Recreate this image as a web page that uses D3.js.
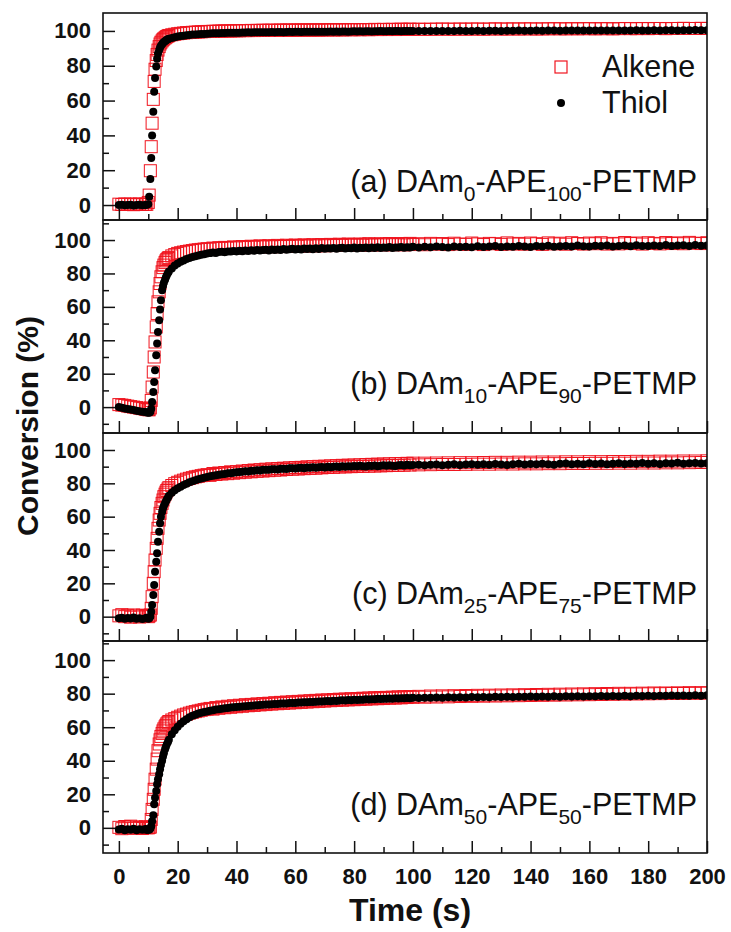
<!DOCTYPE html>
<html>
<head>
<meta charset="utf-8">
<script src="https://cdn.jsdelivr.net/npm/d3@7"></script>
<style>
  body { margin: 0; background: #fff; }
  svg { display: block; }
</style>
</head>
<body>
<svg id="chart" width="731" height="932"></svg>
<script>
// Sampling times (s), shared by every series
const time = [
  0, 1, 2, 3, 4, 5, 6, 7, 8, 9, 9.5,
  10, 10.3, 10.7, 11, 11.3, 11.7, 12, 12.3, 12.7, 13, 13.3, 13.7, 14, 14.3, 14.7, 15, 15.3, 15.7, 16, 16.3, 16.7, 17,
  18, 19, 20, 21, 22, 23, 24, 25, 26, 27, 28, 29, 30,
  31, 32, 33, 34, 35, 36, 37, 38, 39, 40,
  41, 42, 43, 44, 45, 46, 47, 48, 49, 50,
  51, 52, 53, 54, 55, 56, 57, 58, 59, 60,
  61, 62, 63, 64, 65, 66, 67, 68, 69, 70,
  71, 72, 73, 74, 75, 76, 77, 78, 79, 80,
  81, 82, 83, 84, 85, 86, 87, 88, 89, 90,
  91, 92, 93, 94, 95, 96, 97, 98, 99, 100,
  102, 104, 106, 108, 110, 112, 114, 116, 118, 120,
  122, 124, 126, 128, 130, 132, 134, 136, 138, 140,
  142, 144, 146, 148, 150, 152, 154, 156, 158, 160,
  162, 164, 166, 168, 170, 172, 174, 176, 178, 180,
  182, 184, 186, 188, 190, 192, 194, 196, 198, 200
];

// (a) DAm0-APE100-PETMP conversion (%)
const alkeneA = [
  0.5, 0.3, 0.6, 0.4, 0.5, 0.2, 0.5, 0.6, 0.3, 0.5, 0.4,
  1.5, 5.7, 19.7, 33.5, 47, 60.7, 71, 78, 83, 86.5, 89, 91, 92.5, 93.5, 94.3, 95, 95.5, 96, 96.4, 96.8, 97.1, 97.4,
  97.8, 98.1, 98.4, 98.6, 98.8, 99, 99.1, 99.2, 99.3, 99.4, 99.5, 99.6, 99.7,
  99.7, 99.8, 99.8, 99.9, 99.9, 100, 100, 100, 100.1, 100.1,
  100.1, 100.2, 100.2, 100.2, 100.3, 100.2, 100.3, 100.3, 100.4, 100.3,
  100.4, 100.4, 100.3, 100.4, 100.5, 100.4, 100.5, 100.5, 100.4, 100.5,
  100.5, 100.6, 100.5, 100.6, 100.5, 100.6, 100.6, 100.5, 100.6, 100.7,
  100.6, 100.7, 100.6, 100.7, 100.7, 100.6, 100.7, 100.8, 100.7, 100.7,
  100.8, 100.7, 100.8, 100.8, 100.7, 100.8, 100.9, 100.8, 100.8, 100.9,
  100.8, 100.9, 100.9, 100.8, 100.9, 101, 100.9, 100.9, 101, 100.9,
  101, 100.9, 101, 101, 101.1, 101, 101, 101.1, 101, 101.1,
  101.1, 101, 101.1, 101.2, 101.1, 101.1, 101.2, 101.1, 101.2, 101.2,
  101.1, 101.2, 101.2, 101.3, 101.2, 101.2, 101.3, 101.2, 101.3, 101.3,
  101.2, 101.3, 101.3, 101.2, 101.3, 101.4, 101.3, 101.3, 101.4, 101.3,
  101.4, 101.4, 101.3, 101.4, 101.4, 101.5, 101.4, 101.4, 101.5, 101.4
];
const thiolA = [
  0, 0.2, -0.1, 0, 0.1, -0.2, 0, 0.1, -0.1, 0, 0.2,
  0.5, 4.8, 15, 27, 40, 53.6, 65, 73, 79.5, 84, 87, 89, 90.5, 91.5, 92.4, 93, 93.6, 94.1, 94.5, 94.9, 95.2, 95.5,
  96, 96.4, 96.8, 97.1, 97.3, 97.5, 97.7, 97.9, 98, 98.1, 98.2, 98.3, 98.4,
  98.5, 98.6, 98.6, 98.7, 98.8, 98.8, 98.9, 98.9, 99, 99,
  99, 99.1, 99.1, 99.2, 99.1, 99.2, 99.2, 99.3, 99.2, 99.3,
  99.3, 99.4, 99.3, 99.4, 99.4, 99.3, 99.4, 99.5, 99.4, 99.5,
  99.5, 99.4, 99.5, 99.5, 99.6, 99.5, 99.6, 99.5, 99.6, 99.6,
  99.6, 99.7, 99.6, 99.7, 99.6, 99.7, 99.7, 99.6, 99.7, 99.8,
  99.7, 99.8, 99.7, 99.8, 99.8, 99.7, 99.8, 99.8, 99.9, 99.8,
  99.8, 99.9, 99.8, 99.9, 99.9, 99.8, 99.9, 99.9, 100, 99.9,
  99.9, 100, 99.9, 100, 100, 99.9, 100, 100.1, 100, 100,
  100.1, 100, 100.1, 100.1, 100, 100.1, 100.1, 100.2, 100.1, 100.1,
  100.2, 100.1, 100.2, 100.2, 100.1, 100.2, 100.2, 100.3, 100.2, 100.2,
  100.3, 100.2, 100.3, 100.3, 100.2, 100.3, 100.3, 100.4, 100.3, 100.3,
  100.4, 100.3, 100.4, 100.4, 100.3, 100.4, 100.4, 100.5, 100.4, 100.4
];

// (b) DAm10-APE90-PETMP
const alkeneB = [
  1.5, 1.2, 1, 0.6, 0.3, 0, -0.3, -0.6, -0.9, -1.2, -1.4,
  -1.5, -1.6, -0.5, 4, 12, 21, 30, 39, 48, 56, 63, 69, 74, 78, 81, 83.5, 85, 86.5, 87.5, 88.3, 89, 89.5,
  90.5, 91.3, 92, 92.4, 92.8, 93.1, 93.4, 93.7, 94, 94.2, 94.4, 94.6, 94.8,
  94.6, 95.2, 94.9, 95.4, 95.1, 95.6, 95.2, 95.5, 95.9, 95.3,
  95.8, 96.1, 95.5, 96, 96.3, 95.7, 96.2, 96.5, 95.9, 96.3,
  96.6, 96, 96.4, 96.8, 96.1, 96.5, 96.9, 96.2, 96.7, 97,
  96.3, 96.8, 97.1, 96.4, 96.9, 97.2, 96.5, 97, 97.3, 96.6,
  97.1, 97.4, 96.7, 97.2, 97.5, 96.8, 97.3, 97.6, 96.9, 97.4,
  97.2, 97.6, 96.9, 97.5, 97.8, 97, 97.5, 97.3, 97.8, 97.1,
  97.6, 97.9, 97.2, 97.6, 97.4, 97.9, 97.1, 97.7, 98, 97.3,
  97.8, 97.2, 98, 97.5, 97.9, 97.3, 98.1, 97.6, 97.4, 98.2,
  97.7, 97.3, 98, 97.8, 97.4, 98.3, 97.6, 98, 97.5, 98.2,
  97.8, 97.4, 98.3, 97.7, 98.1, 97.5, 98.4, 97.9, 97.6, 98.2,
  97.8, 98.4, 97.6, 98, 97.7, 98.5, 97.9, 98.2, 97.6, 98.4,
  98, 97.7, 98.5, 97.9, 98.3, 97.8, 98.6, 98.1, 97.9, 98.4
];
const thiolB = [
  0, -0.4, -0.8, -1.2, -1.5, -1.8, -2.2, -2.5, -2.8, -3, -3.2,
  -3.3, -3.4, -3, -1, 3, 9, 15, 22, 31, 38, 45, 52, 58.5, 64, 70, 72.5, 74.5, 76.3, 77.8, 79, 80.2, 81.2,
  83, 84.8, 86, 87, 87.8, 88.6, 89.2, 89.8, 90.3, 90.8, 91.2, 91.5, 92,
  92.2, 92.5, 92.3, 92.8, 93, 92.7, 93.2, 93.1, 93.4, 93.2,
  93.6, 93.3, 93.8, 93.5, 93.9, 93.6, 94.1, 93.7, 94, 94.2,
  93.8, 94.3, 94, 94.4, 94.1, 94.6, 94.2, 94.5, 94.8, 94.3,
  94.7, 94.4, 95, 94.6, 94.9, 94.5, 95.1, 94.7, 95.2, 94.8,
  95.1, 94.9, 95.3, 94.8, 95.2, 95.4, 94.9, 95.3, 95.1, 95.5,
  95, 95.4, 95.2, 95.6, 95.1, 95.5, 95.3, 95.7, 95.2, 95.6,
  95.4, 95.8, 95.3, 95.6, 95.5, 95.9, 95.4, 95.7, 95.6, 96,
  95.6, 96, 95.7, 96.1, 95.8, 95.5, 96.2, 95.9, 96, 95.7,
  96.3, 95.8, 96.1, 96.4, 95.9, 96.2, 96, 96.5, 96.1, 95.9,
  96.4, 96.2, 96.6, 96, 96.3, 96.5, 96.1, 96.7, 96.3, 96.2,
  96.6, 96.4, 96.8, 96.2, 96.5, 96.7, 96.3, 96.9, 96.5, 96.4,
  96.8, 96.5, 97, 96.4, 96.7, 96.9, 96.5, 97, 96.6, 96.8
];

// (c) DAm25-APE75-PETMP
const alkeneC = [
  0.5, 1.2, 0, 0.8, -0.3, 1, 0.4, -0.2, 0.9, 0.3, 0.6,
  0, 0.5, 1, 5, 12, 20, 27, 34, 41, 47, 53, 58, 62, 65.5, 68, 70, 72, 73.5, 74.7, 75.7, 76.6, 77.4,
  78.7, 79.8, 80.6, 81.3, 81.9, 82.5, 83, 83.4, 83.9, 84.2, 84.6, 84.9, 85.2,
  84.8, 85.9, 85.3, 86.2, 85.6, 86.5, 85.8, 86.9, 86.1, 87,
  86.4, 87.4, 86.7, 87.7, 86.9, 88, 87.2, 88.2, 87.4, 88.5,
  87.6, 88.7, 87.9, 88.9, 88, 89.1, 88.3, 89.3, 88.5, 89.5,
  88.6, 89.6, 88.8, 89.9, 89, 90, 89.1, 90.2, 89.3, 90.3,
  89.5, 90.5, 89.6, 90.6, 89.8, 90.8, 89.9, 90.9, 90, 91,
  90.1, 91.1, 90.2, 91.3, 90.3, 91.4, 90.4, 91.5, 90.5, 91.6,
  90.6, 91.7, 90.7, 91.8, 90.8, 91.9, 90.9, 92, 91, 92.1,
  91.1, 92.1, 91.2, 92.2, 91.3, 92.3, 91.3, 92.4, 91.4, 92.4,
  91.5, 92.5, 91.5, 92.6, 91.6, 92.6, 91.6, 92.7, 91.7, 92.7,
  91.7, 92.8, 91.8, 92.8, 91.8, 92.9, 91.9, 92.9, 91.9, 93,
  92, 93, 92, 93.1, 92.1, 93.1, 92.1, 93.2, 92.2, 93.2,
  92.2, 93.3, 92.3, 93.3, 92.3, 93.4, 92.4, 93.4, 92.5, 93.5
];
const thiolC = [
  -1, -0.6, -1.3, -0.8, -1.1, -0.5, -1.2, -0.9, -1.4, -1, -0.7,
  -1.2, -1, 0, 3, 7, 13, 19, 27, 33, 38, 45, 51, 56, 60, 63, 65, 66.5, 68, 69.3, 70.3, 71.5, 72.5,
  74.3, 75.8, 77, 78, 79, 79.8, 80.6, 81.3, 81.8, 82.4, 82.9, 83.4, 83.8,
  84.2, 84.5, 84.9, 85.1, 85.5, 85.6, 86, 86.1, 86.4, 86.6,
  86.8, 87, 87.2, 87.1, 87.5, 87.6, 87.9, 87.7, 88.1, 88.2,
  88.1, 88.4, 88.5, 88.3, 88.7, 88.8, 88.6, 89, 89.1, 88.9,
  89.2, 89.3, 89.1, 89.5, 89.4, 89.6, 89.3, 89.7, 89.8, 89.5,
  89.9, 89.7, 90, 90.1, 89.8, 90.2, 90, 90.3, 90.1, 90.4,
  90.2, 90.5, 90.3, 90.1, 90.6, 90.4, 90.7, 90.3, 90.6, 90.8,
  90.5, 90.9, 90.6, 90.4, 90.9, 91, 90.7, 91.1, 90.8, 91,
  91.2, 90.8, 91.1, 91.3, 90.9, 91.2, 91.4, 91, 91.3, 91.5,
  91.1, 91.4, 91.2, 91.6, 91.3, 91, 91.5, 91.7, 91.3, 91.6,
  91.4, 91.8, 91.5, 91.2, 91.7, 91.9, 91.4, 91.7, 91.5, 92,
  91.6, 91.9, 91.4, 91.8, 92.1, 91.6, 91.9, 91.7, 92.2, 91.8,
  92, 91.6, 92.1, 91.9, 92.3, 91.8, 92, 92.2, 91.9, 92.1
];

// (d) DAm50-APE50-PETMP
const alkeneD = [
  0.3, -0.5, 0.8, 0, 1, -0.3, 0.6, 0.2, -0.4, 0.7, 0.1,
  0, 0.2, 0.5, 5, 11, 17, 23, 29, 35, 41, 46, 50, 52.5, 54.5, 56.3, 57.8, 59, 60.2, 61.1, 62, 62.7, 63.4,
  64.3, 65.1, 65.9, 66.6, 67.3, 67.8, 68.4, 68.9, 69.3, 69.7, 70.1, 70.5, 70.8,
  71.2, 70.8, 71.7, 71.3, 72.1, 71.6, 72.5, 71.9, 72.8, 72.2,
  73.1, 72.5, 73.4, 72.8, 73.6, 73, 73.9, 73.3, 74.1, 73.5,
  74.3, 73.8, 74.6, 74, 74.8, 74.2, 75, 74.4, 75.2, 74.6,
  75.4, 74.8, 75.6, 75, 75.8, 75.2, 76, 75.4, 76.2, 75.6,
  76.3, 75.8, 76.5, 76, 76.7, 76.1, 76.8, 76.3, 77, 76.4,
  77.1, 76.6, 77.3, 76.7, 77.4, 76.9, 77.6, 77, 77.7, 77.1,
  77.8, 77.3, 77.9, 77.4, 78.1, 77.5, 78.2, 77.7, 78.3, 77.8,
  78.4, 77.9, 78.6, 78, 78.7, 78.1, 78.8, 78.3, 78.9, 78.4,
  79, 78.5, 79.1, 78.6, 79.2, 78.7, 79.3, 78.8, 79.4, 78.9,
  79.5, 79, 79.6, 79.1, 79.7, 79.2, 79.8, 79.3, 79.9, 79.4,
  80, 79.5, 80.1, 79.6, 80.2, 79.7, 80.2, 79.8, 80.3, 79.9,
  80.4, 80, 80.4, 80.1, 80.5, 80.1, 80.6, 80.2, 80.6, 80.3
];
const thiolD = [
  -1, -0.5, -1.4, -0.8, -1.2, -0.6, -1.5, -0.9, -1.1, -0.7, -1.3,
  -1, -1.2, -0.5, 1, 4, 7.5, 14, 18, 22, 26, 29, 32, 35, 37.5, 40, 42.5, 44.5, 46.8, 48.3, 49.8, 51.2, 52.5,
  55.8, 58.2, 60.3, 62, 63.6, 64.8, 65.9, 66.8, 67.5, 68.1, 68.6, 69, 69.4,
  69.8, 70.1, 70.5, 70.7, 71, 71.3, 71.4, 71.7, 71.9, 72,
  72.2, 72.4, 72.5, 72.7, 72.8, 73, 73.1, 73.2, 73.4, 73.5,
  73.6, 73.7, 73.9, 73.9, 74.1, 74.2, 74.2, 74.4, 74.5, 74.5,
  74.7, 74.7, 74.9, 74.9, 75.1, 75.1, 75.2, 75.4, 75.3, 75.5,
  75.6, 75.5, 75.8, 75.7, 75.9, 76, 75.9, 76.2, 76.1, 76.3,
  76.2, 76.4, 76.4, 76.6, 76.5, 76.7, 76.6, 76.9, 76.8, 77,
  76.9, 77.1, 77, 77.2, 77.1, 77.3, 77.2, 77.4, 77.3, 77.5,
  77.4, 77.6, 77.5, 77.7, 77.6, 77.8, 77.7, 77.9, 77.7, 78,
  77.8, 78, 77.9, 78.1, 78, 78.2, 78, 78.2, 78.1, 78.3,
  78.1, 78.3, 78.2, 78.4, 78.2, 78.4, 78.3, 78.5, 78.3, 78.5,
  78.4, 78.6, 78.4, 78.6, 78.5, 78.7, 78.5, 78.7, 78.6, 78.8,
  78.6, 78.8, 78.7, 78.9, 78.7, 78.9, 78.8, 79, 78.8, 79
];

// Panel captions: (tag) DAm<sub>-APE<sub>-PETMP
const panelTags = ["a", "b", "c", "d"];
const damContent = ["0", "10", "25", "50"];
const apeContent = ["100", "90", "75", "50"];
const seriesNames = ["Alkene", "Thiol"];

const xTickValues = [0, 20, 40, 60, 80, 100, 120, 140, 160, 180, 200];
const xMinorValues = [10, 30, 50, 70, 90, 110, 130, 150, 170, 190];
const yTickValues = [0, 20, 40, 60, 80, 100];
const yMinorValues = [-10, 10, 30, 50, 70, 90, 110];

const panels = [
  { alkene: alkeneA, thiol: thiolA },
  { alkene: alkeneB, thiol: thiolB },
  { alkene: alkeneC, thiol: thiolC },
  { alkene: alkeneD, thiol: thiolD }
];

// ---- layout ----
const FONT = "'Liberation Sans', Arial, Helvetica, sans-serif";
const left = 103, right = 707;
const boxes = [
  { top: 13,  bottom: 220, lo: -8.6,  hi: 110.3 },
  { top: 220, bottom: 433, lo: -15.5, hi: 112 },
  { top: 433, bottom: 641, lo: -14.6, hi: 110.2 },
  { top: 641, bottom: 853, lo: -15,   hi: 111.4 }
];
const RED = "#f0141e";
const SQ = 12;      // square marker side
const DOT = 4;      // dot radius

const svg = d3.select("#chart");
const defs = svg.append("defs");
const x = d3.scaleLinear().domain([-5.4, 200]).range([left, right]);

panels.forEach((p, i) => {
  const b = boxes[i];
  const y = d3.scaleLinear().domain([b.lo, b.hi]).range([b.bottom, b.top]);
  const g = svg.append("g").attr("class", "panel");

  defs.append("clipPath").attr("id", "clip" + i)
    .append("rect").attr("x", left).attr("y", b.top)
    .attr("width", right - left).attr("height", b.bottom - b.top);

  const marks = g.append("g").attr("clip-path", `url(#clip${i})`);
  const alk = time.map((t, k) => [t, p.alkene[k]]);
  const thi = time.map((t, k) => [t, p.thiol[k]]);

  marks.append("g").selectAll("rect").data(alk).join("rect")
    .attr("x", d => x(d[0]) - SQ / 2)
    .attr("y", d => y(d[1]) - SQ / 2)
    .attr("width", SQ).attr("height", SQ)
    .attr("fill", "none").attr("stroke", RED).attr("stroke-width", 1);

  marks.append("g").selectAll("circle").data(thi).join("circle")
    .attr("cx", d => x(d[0]))
    .attr("cy", d => y(d[1]))
    .attr("r", DOT).attr("fill", "#000");

  // y axis: inward ticks, bold labels
  const yAxis = g.append("g").attr("transform", `translate(${left},0)`)
    .call(d3.axisLeft(y).tickValues(yTickValues).tickSize(-12).tickPadding(12).tickFormat(d3.format("d")));
  yAxis.append("g").call(d3.axisLeft(y)
    .tickValues(yMinorValues.filter(v => v > b.lo + 1 && v < b.hi - 1))
    .tickSize(-6).tickFormat(""));

  // x axis along the panel bottom, labels only on the last panel
  const xAxis = g.append("g").attr("transform", `translate(0,${b.bottom})`)
    .call(d3.axisBottom(x).tickValues(xTickValues).tickSize(-12).tickPadding(15)
      .tickFormat(i === panels.length - 1 ? d3.format("d") : ""));
  xAxis.append("g").call(d3.axisBottom(x).tickValues(xMinorValues).tickSize(-6).tickFormat(""));

  g.selectAll(".domain").remove();
  g.selectAll(".tick line").attr("stroke", "#111").attr("stroke-width", 1.5);
  g.selectAll(".tick text")
    .attr("font-family", FONT).attr("font-weight", "bold")
    .attr("font-size", 22).attr("fill", "#111");

  // frame
  g.append("rect").attr("x", left).attr("y", b.top)
    .attr("width", right - left).attr("height", b.bottom - b.top)
    .attr("fill", "none").attr("stroke", "#111").attr("stroke-width", 1.6);

  // caption
  const cap = g.append("text")
    .attr("x", 697).attr("y", y(0) - 13)
    .attr("text-anchor", "end")
    .attr("font-family", FONT).attr("font-size", 30.5).attr("fill", "#111");
  cap.append("tspan").text(`(${panelTags[i]}) DAm`);
  cap.append("tspan").attr("dy", 9).attr("font-size", 21).text(damContent[i]);
  cap.append("tspan").attr("dy", -9).text("-APE");
  cap.append("tspan").attr("dy", 9).attr("font-size", 21).text(apeContent[i]);
  cap.append("tspan").attr("dy", -9).text("-PETMP");
});

// legend (top panel)
const leg = svg.append("g").attr("font-family", FONT).attr("font-size", 30.5).attr("fill", "#111");
leg.append("rect").attr("x", 561 - SQ / 2).attr("y", 67 - SQ / 2)
  .attr("width", SQ).attr("height", SQ)
  .attr("fill", "none").attr("stroke", RED).attr("stroke-width", 1.2);
leg.append("text").attr("x", 602).attr("y", 77).text(seriesNames[0]);
leg.append("circle").attr("cx", 561).attr("cy", 103).attr("r", DOT).attr("fill", "#000");
leg.append("text").attr("x", 602).attr("y", 113).text(seriesNames[1]);

// axis titles
svg.append("text")
  .attr("x", 410).attr("y", 921)
  .attr("text-anchor", "middle")
  .attr("font-family", FONT).attr("font-weight", "bold").attr("font-size", 32).attr("fill", "#111")
  .text("Time (s)");
svg.append("text")
  .attr("transform", "translate(38,426) rotate(-90)")
  .attr("text-anchor", "middle")
  .attr("font-family", FONT).attr("font-weight", "bold").attr("font-size", 30).attr("fill", "#111")
  .text("Conversion (%)");
</script>
</body>
</html>
